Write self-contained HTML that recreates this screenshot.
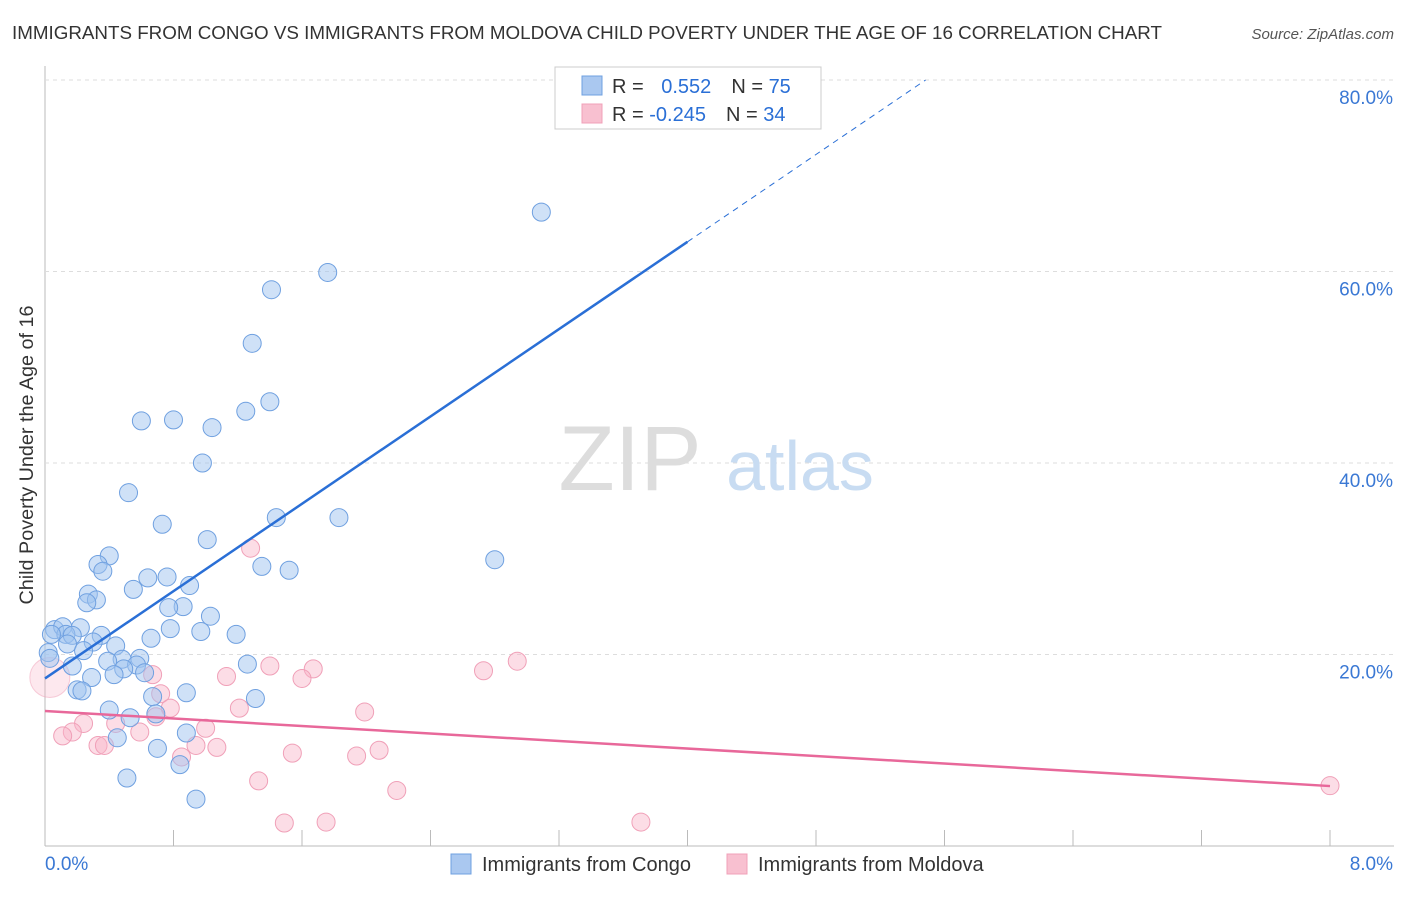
<!DOCTYPE html>
<html><head><meta charset="utf-8"><style>
body{margin:0;background:#fff;font-family:"Liberation Sans",sans-serif;}
svg text{font-family:"Liberation Sans",sans-serif;}
</style></head><body>
<svg id="c" width="1406" height="892">
<text x="12" y="39" font-size="18.8" fill="#333">IMMIGRANTS FROM CONGO VS IMMIGRANTS FROM MOLDOVA CHILD POVERTY UNDER THE AGE OF 16 CORRELATION CHART</text>
<text x="1394" y="39" font-size="15" fill="#555" font-style="italic" text-anchor="end">Source: ZipAtlas.com</text>
<g id="grid"></g>
<text x="630" y="490" font-size="92" fill="#ddd" font-family="Liberation Serif" text-anchor="middle">ZIP</text>
<text x="800" y="490" font-size="70" fill="#c8dcf2" text-anchor="middle">atlas</text>
<g id="pts"></g>
<g id="lines"></g>
<text x="33" y="455" font-size="19.8" fill="#333" text-anchor="middle" transform="rotate(-90 33 455)">Child Poverty Under the Age of 16</text>
<g>
<rect x="555" y="67" width="266" height="62" fill="#fff" stroke="#ccc"/>
<rect x="582" y="76" width="20" height="19" fill="#aac8f0" stroke="#6fa0e0"/>
<rect x="582" y="104" width="20" height="19" fill="#f8c0d0" stroke="#f0a0b8"/>
<text x="612" y="93" font-size="20" fill="#333">R = <tspan fill="#2a6fd6" dx="12">0.552</tspan><tspan dx="20" fill="#333">N = </tspan><tspan fill="#2a6fd6">75</tspan></text>
<text x="612" y="121" font-size="20" fill="#333">R = <tspan fill="#2a6fd6">-0.245</tspan><tspan dx="20" fill="#333">N = </tspan><tspan fill="#2a6fd6">34</tspan></text>
</g>
<g>
<rect x="451" y="854" width="20" height="20" fill="#aac8f0" stroke="#6fa0e0"/>
<text x="482" y="871" font-size="20" fill="#333">Immigrants from Congo</text>
<rect x="727" y="854" width="20" height="20" fill="#f8c0d0" stroke="#f0a0b8"/>
<text x="758" y="871" font-size="20" fill="#333">Immigrants from Moldova</text>
</g>
</svg>
<script>
const xTicks=[0,0.8,1.6,2.4,3.2,4.0,4.8,5.6,6.4,7.2,8.0];
const yTicks=[20,40,60,80];
const congoX=[3.09,1.76,1.41,1.29,1.40,1.25,0.80,0.60,1.04,0.98,0.52,1.83,1.44,0.73,1.01,2.80,0.40,0.33,0.36,1.35,1.52,0.64,0.76,0.90,0.55,0.27,0.32,0.26,0.86,0.77,1.03,0.22,0.78,0.97,0.06,0.11,0.13,0.17,0.04,1.19,0.35,0.30,0.66,0.44,0.14,0.24,0.02,0.03,0.59,0.48,0.39,0.57,1.26,0.17,0.49,0.43,0.62,0.29,0.20,0.23,0.67,0.88,1.31,0.40,0.69,0.53,0.88,0.45,0.70,0.51,0.84,0.94];
const congoY=[66.2,59.9,58.1,52.5,46.4,45.4,44.5,44.4,43.7,40.0,36.9,34.3,34.3,33.6,32.0,29.9,30.3,29.4,28.7,29.2,28.8,28.0,28.1,27.2,26.8,26.3,25.7,25.4,25.0,24.9,24.0,22.8,22.7,22.4,22.6,22.9,22.1,22.0,22.1,22.1,22.0,21.3,21.7,20.9,21.1,20.4,20.2,19.6,19.6,19.5,19.3,18.9,19.0,18.8,18.5,17.9,18.1,17.6,16.3,16.2,15.6,16.0,15.4,14.2,13.8,13.4,11.8,11.3,10.2,7.1,8.5,4.9];
const moldovaX=[0.03,1.28,2.94,2.73,1.40,1.67,1.60,1.13,0.67,0.72,1.21,0.78,1.99,1.00,0.69,0.24,0.44,0.17,0.11,0.59,0.33,0.37,0.94,1.07,0.85,1.54,2.08,1.94,1.33,2.19,1.49,1.75,3.71,8.0];
const moldovaY=[17.6,31.1,19.3,18.3,18.8,18.5,17.5,17.7,17.9,15.9,14.4,14.4,14.0,12.3,13.5,12.8,12.8,11.9,11.5,11.9,10.5,10.5,10.5,10.3,9.3,9.7,10.0,9.4,6.8,5.8,2.4,2.5,2.5,6.3];
const moldovaR=[20,9,9,9,9,9,9,9,9,9,9,9,9,9,9,9,9,9,9,9,9,9,9,9,9,9,9,9,9,9,9,9,9,9];
const congoFit=[17.5,11.4];
const moldovaFit=[14.1,-0.98];
const NS='http://www.w3.org/2000/svg';
const X=v=>45+v*(1285/8);
const Y=v=>846-v*9.575;
function mk(t,a,p){const e=document.createElementNS(NS,t);for(const k in a)e.setAttribute(k,a[k]);p.appendChild(e);return e;}
const grid=document.getElementById('grid');
mk('line',{x1:45,y1:66,x2:45,y2:846,stroke:'#bbb'},grid);
mk('line',{x1:45,y1:846,x2:1394,y2:846,stroke:'#bbb'},grid);
yTicks.forEach(t=>{
 const g=mk('line',{x1:45,y1:Y(t),x2:1394,y2:Y(t),stroke:'#ddd','stroke-dasharray':'4,4'},grid);
 
 
 const tx=mk('text',{x:1393,y:Y(t)+24,'font-size':19,fill:'#3a78d4','text-anchor':'end'},grid);
 tx.textContent=t.toFixed(1)+'%';
 
 
});
xTicks.forEach((t,i)=>{
 const l=mk('line',{x1:X(t),y1:830,x2:X(t),y2:846,stroke:'#bbb'},grid);
 
 
});
[[0,45,'start'],[8,1393,'end']].forEach(([t,x,a])=>{
 const tx=mk('text',{x:x,y:870,'font-size':19,fill:'#3a78d4','text-anchor':a},grid);
 tx.textContent=t.toFixed(1)+'%';
 
 
});
const pts=document.getElementById('pts');
moldovaX.forEach((x,i)=>{
 const big=moldovaR[i]>12;
 const c=mk('circle',{cx:X(x),cy:Y(moldovaY[i]),r:moldovaR[i],fill:big?'rgba(248,180,200,0.3)':'rgba(248,180,200,0.45)',stroke:'#f0a0b8','stroke-width':1,'stroke-opacity':big?0.5:1},pts);
 
 
});
congoX.forEach((x,i)=>{
 const c=mk('circle',{cx:X(x),cy:Y(congoY[i]),r:9,fill:'rgba(160,196,240,0.5)',stroke:'#6fa0e0','stroke-width':1},pts);
 
 
});
const lines=document.getElementById('lines');
const xs=4.0, xe=(80-congoFit[0])/congoFit[1];
const l1=mk('line',{x1:X(0),y1:Y(congoFit[0]),x2:X(xs),y2:Y(congoFit[0]+congoFit[1]*xs),stroke:'#2a6fd6','stroke-width':2.5},lines);


const l2=mk('line',{x1:X(xs),y1:Y(congoFit[0]+congoFit[1]*xs),x2:X(xe),y2:Y(80),stroke:'#2a6fd6','stroke-width':1,'stroke-dasharray':'6,5'},lines);


const l3=mk('line',{x1:X(0),y1:Y(moldovaFit[0]),x2:X(8),y2:Y(moldovaFit[0]+moldovaFit[1]*8),stroke:'#e8689a','stroke-width':2.5},lines);


</script>
</body></html>
